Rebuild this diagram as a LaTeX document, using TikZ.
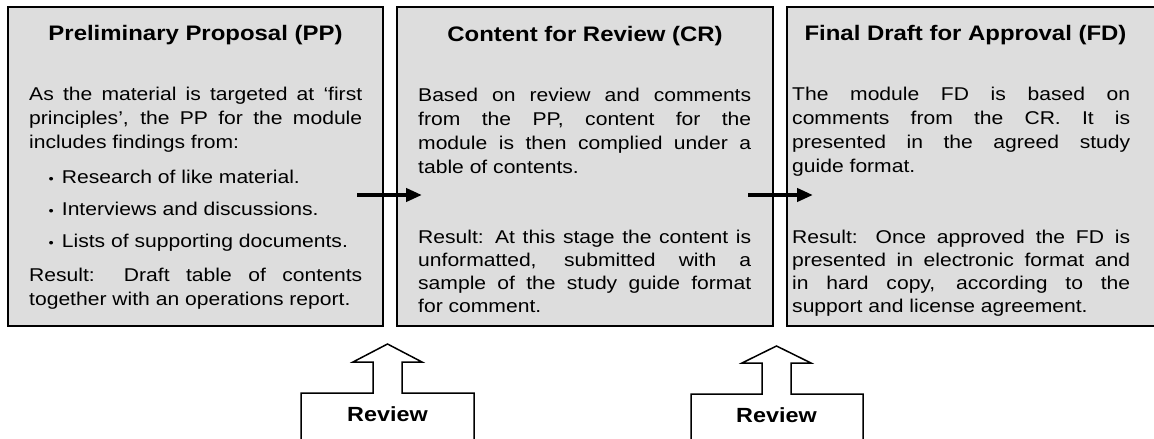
\documentclass[tikz,border=0pt]{standalone}
\usepackage{fontspec}
\setmainfont[FakeStretch=1.14]{Liberation Sans}
\usetikzlibrary{arrows.meta}
\definecolor{boxgray}{RGB}{221,221,221}
\newcommand{\Jline}[1]{\makebox[\linewidth][s]{#1}\par}
\newcommand{\bul}{\makebox[13.2pt][l]{\fontsize{13}{13}\selectfont •}}
\tikzset{
  stagebox/.style={draw=black, fill=boxgray, line width=1.5pt, inner sep=0pt, outer sep=0pt, anchor=north west, minimum height=319pt},
  titletext/.style={anchor=base, inner sep=0pt, font=\bfseries\fontsize{21}{24}\selectfont},
  bodytext/.style={anchor=base west, inner sep=0pt, font=\fontsize{18.5}{24}\selectfont},
  flow/.style={line width=4pt, -{Triangle[length=16pt,width=13pt]}},
  reviewshape/.style={draw=black, fill=white, line width=1.5pt, line join=miter},
  reviewtext/.style={anchor=base, inner sep=0pt, font=\bfseries\fontsize{20.5}{24}\selectfont}
}
\begin{document}
\begin{tikzpicture}[x=1pt,y=-1pt]
\useasboundingbox (0,0) rectangle (1154,439);
\clip (0,0) rectangle (1154,439);
% stage boxes
\node[stagebox, minimum width=375pt] (pp) at (8,7) {};
\node[stagebox, minimum width=376pt] (cr) at (397,7) {};
\node[stagebox, minimum width=420pt] (fd) at (787,7) {};
% titles
\node[titletext] (tpp) at (195.5,40.7) {Preliminary Proposal (PP)};
\node[titletext] (tcr) at (585,41.2) {Content for Review (CR)};
\node[titletext] (tfd) at (965.5,40.5) {Final Draft for Approval (FD)};
% box 1 text
\node[bodytext] (pp1) at (29,100.7) {\parbox[t]{333pt}{%
\Jline{As the material is targeted at ‘first}
\Jline{principles’, the PP for the module}
includes findings from:}};
\node[bodytext] (pp2) at (48.5,183) {\parbox[t]{320pt}{%
\bul Research of like material.\par\vspace{8pt}
\bul Interviews and discussions.\par\vspace{8.5pt}
\bul Lists of supporting documents.}};
\node[bodytext] (pp3) at (29,281) {\parbox[t]{333pt}{%
\Jline{Result: Draft table of contents}
together with an operations report.}};
% box 2 text
\node[bodytext] (cr1) at (418,101.2) {\parbox[t]{333pt}{%
\Jline{Based on review and comments}
\Jline{from the PP, content for the}
\Jline{module is then complied under a}
table of contents.}};
\node[bodytext] (cr2) at (418,243) {\parbox[t]{333pt}{\baselineskip=23.2pt
\Jline{Result: At this stage the content is}
\Jline{unformatted, submitted with a}
\Jline{sample of the study guide format}
for comment.}};
% box 3 text
\node[bodytext] (fd1) at (792,100.5) {\parbox[t]{338pt}{%
\Jline{The module FD is based on}
\Jline{comments from the CR. It is}
\Jline{presented in the agreed study}
guide format.}};
\node[bodytext] (fd2) at (792,243) {\parbox[t]{338pt}{\baselineskip=23.2pt
\Jline{Result: Once approved the FD is}
\Jline{presented in electronic format and}
\Jline{in hard copy, according to the}
support and license agreement.}};
% flow arrows
\coordinate (a1s) at (357,195);
\coordinate (a1e) at (422,195);
\coordinate (a2s) at (748,195);
\coordinate (a2e) at (813,195);
\draw[flow] (a1s) -- (a1e);
\draw[flow] (a2s) -- (a2e);
% review block arrows
\draw[reviewshape] (301,455) -- (301,393) -- (373,393) -- (373,362) -- (353,362) -- (387.5,344) -- (422,362) -- (402,362) -- (402,393) -- (474,393) -- (474,455);
\draw[reviewshape] (691,455) -- (691,394) -- (762,394) -- (762,363) -- (742,363) -- (776.5,346) -- (811,363) -- (791,363) -- (791,394) -- (863,394) -- (863,455);
\node[reviewtext] (rv1) at (387.5,421.7) {Review};
\node[reviewtext] (rv2) at (776.5,422.5) {Review};
\end{tikzpicture}
\end{document}
